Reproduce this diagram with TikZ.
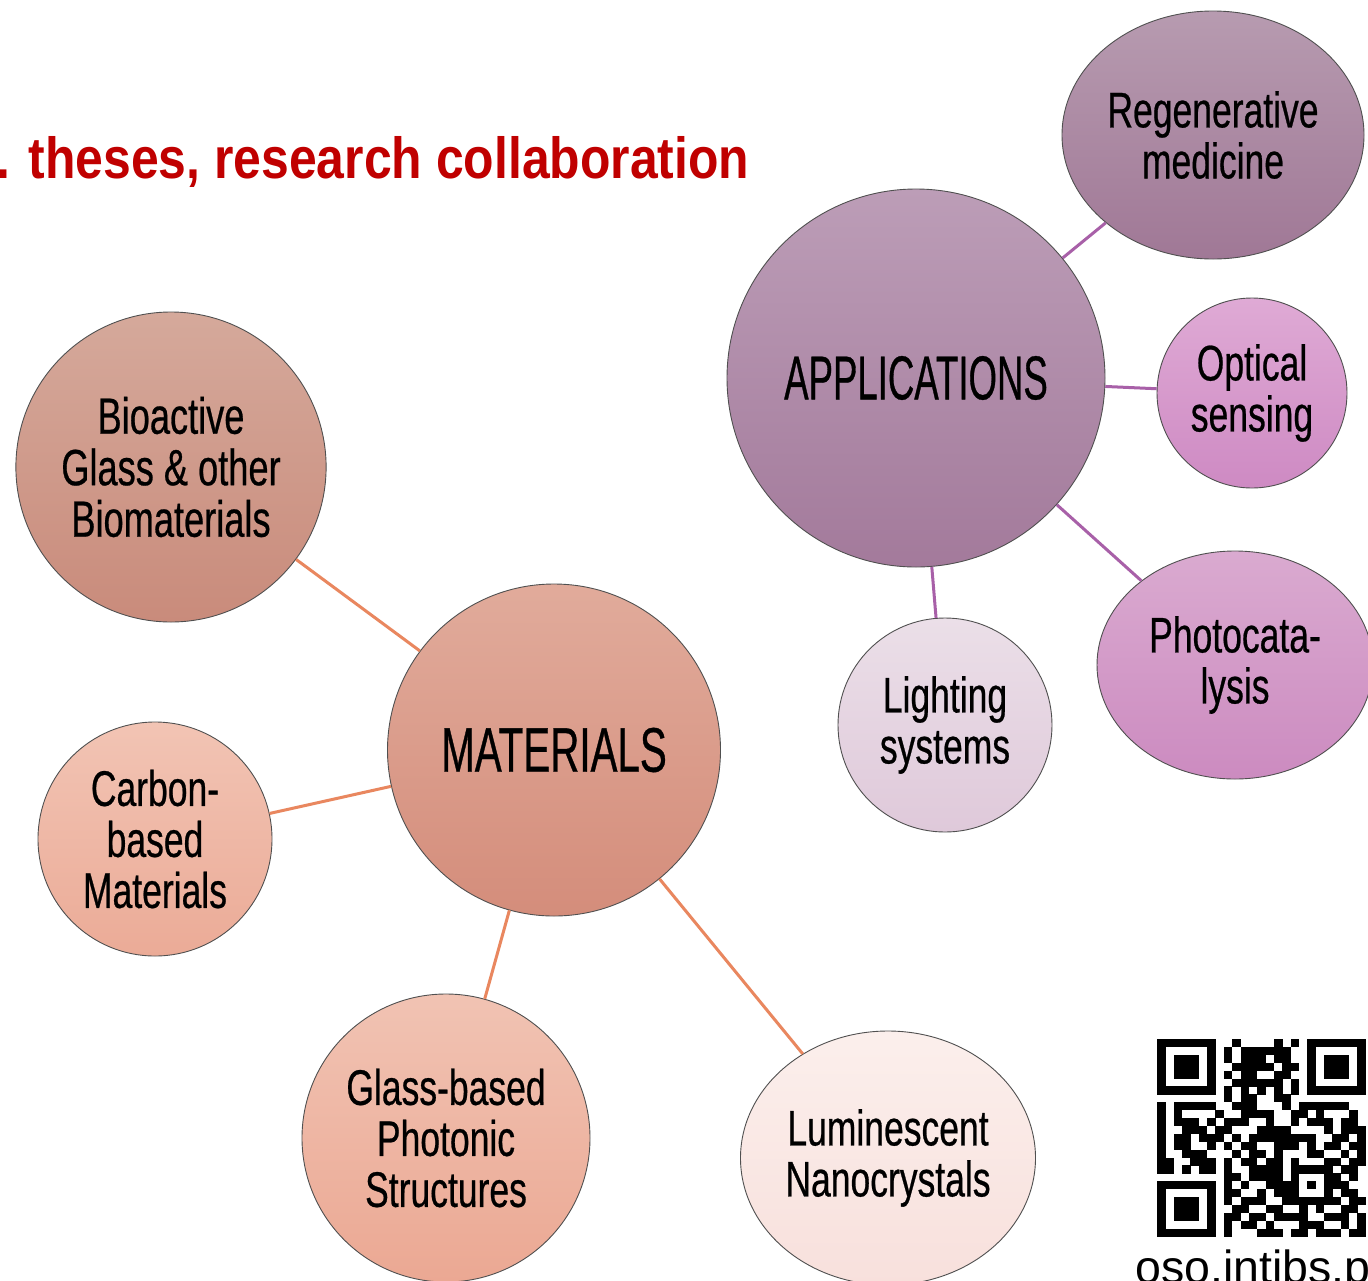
\documentclass[tikz,border=0pt]{standalone}
\usepackage{fontspec}
\usetikzlibrary{shapes.geometric}
\newfontfamily\lblfont{Liberation Sans}[FakeStretch=0.71,FakeBold=0.5]
\newfontfamily\matfont{Liberation Sans}[FakeStretch=0.64,FakeBold=0.5]
\newfontfamily\appfont{Liberation Sans}[FakeStretch=0.59,FakeBold=0.5]
\newfontfamily\titlefont{Liberation Sans}[FakeStretch=0.86]
\newfontfamily\urlfont{Liberation Sans}
\definecolor{titlered}{HTML}{C00000}
\definecolor{matline}{HTML}{E9875F}
\definecolor{appline}{HTML}{A860A8}
\definecolor{rim}{HTML}{505050}
\definecolor{bioT}{HTML}{D5A99B}\definecolor{bioB}{HTML}{C98B7B}
\definecolor{matT}{HTML}{E1AB9B}\definecolor{matB}{HTML}{D48D7B}
\definecolor{carT}{HTML}{F2C4B4}\definecolor{carB}{HTML}{EBAB97}
\definecolor{glaT}{HTML}{F1C3B3}\definecolor{glaB}{HTML}{EBA893}
\definecolor{lumT}{HTML}{FBEFEC}\definecolor{lumB}{HTML}{F8E0DC}
\definecolor{appT}{HTML}{BC9DB7}\definecolor{appB}{HTML}{A37A9B}
\definecolor{regT}{HTML}{B79BB0}\definecolor{regB}{HTML}{A07896}
\definecolor{optT}{HTML}{DFAAD5}\definecolor{optB}{HTML}{CE8AC3}
\definecolor{phoT}{HTML}{DAAAD0}\definecolor{phoB}{HTML}{CC8BC0}
\definecolor{ligT}{HTML}{EBDFE8}\definecolor{ligB}{HTML}{DFC9DA}
\newcount\qrc \newcount\qrr
\def\qrparse#1{%
  \ifx#1\relax\let\qrnext\relax\else
    \ifnum#1=1\relax\fill (\the\qrc,\the\qrr) rectangle +(1.03,1.03);\fi
    \advance\qrc by 1\relax\let\qrnext\qrparse
  \fi\qrnext}
\def\qrrow#1{\qrc=0\relax\qrparse#1\relax\advance\qrr by 1\relax}
\begin{document}
\begin{tikzpicture}[x=1pt,y=-1pt,
  bub/.style={ellipse, draw=rim, line width=0.9pt, inner sep=0pt, align=center, text=black,
    font=\lblfont\fontsize{50}{51}\selectfont},
  mline/.style={draw=matline, line width=3pt},
  aline/.style={draw=appline, line width=3pt}]
\useasboundingbox (0,0) rectangle (1368,1280);
\clip (0,0) rectangle (1368,1280);
\fill[white] (0,0) rectangle (1368,1280);

\node[anchor=base west, inner sep=0pt, text=titlered,
  font=\titlefont\bfseries\fontsize{58}{60}\selectfont] (title) at (-4,178)
  {. theses, research collaboration};

% materials side
\node[bub, minimum width=310pt, minimum height=310pt, top color=bioT, bottom color=bioB,
  font=\lblfont\fontsize{51}{51.5}\selectfont] (bio) at (171,467) {Bioactive\\Glass \& other\\Biomaterials};
\node[bub, minimum width=333pt, minimum height=332pt, top color=matT, bottom color=matB,
  font=\matfont\fontsize{63}{64}\selectfont] (mat) at (554,750) {MATERIALS};
\node[bub, minimum width=234pt, minimum height=234pt, top color=carT, bottom color=carB] (car) at (155,839) {Carbon-\\based\\Materials};
\node[bub, minimum width=288pt, minimum height=288pt, top color=glaT, bottom color=glaB] (gla) at (446,1138) {Glass-based\\Photonic\\Structures};
\node[bub, minimum width=295pt, minimum height=254pt, top color=lumT, bottom color=lumB] (lum) at (888,1158) {Luminescent\\Nanocrystals};

% applications side
\node[bub, minimum width=378pt, minimum height=378pt, top color=appT, bottom color=appB,
  font=\appfont\fontsize{62}{63}\selectfont] (app) at (916,378) {APPLICATIONS};
\node[bub, minimum width=302pt, minimum height=248pt, top color=regT, bottom color=regB] (reg) at (1213,135) {Regenerative\\medicine};
\node[bub, minimum width=190pt, minimum height=190pt, top color=optT, bottom color=optB] (opt) at (1252,393) {Optical\\sensing};
\node[bub, minimum width=276pt, minimum height=228pt, top color=phoT, bottom color=phoB] (pho) at (1235,665) {Photocata-\\lysis};
\node[bub, minimum width=214pt, minimum height=214pt, top color=ligT, bottom color=ligB] (lig) at (945,725) {Lighting\\systems};

% connectors
\draw[mline] (bio) -- (mat);
\draw[mline] (car) -- (mat);
\draw[mline] (gla) -- (mat);
\draw[mline] (lum) -- (mat);
\draw[aline] (app) -- (reg);
\draw[aline] (app) -- (opt);
\draw[aline] (app) -- (pho);
\draw[aline] (app) -- (lig);

% QR code
\begin{scope}[shift={(1157,1039)}, x=8.35pt, y=-7.9pt]
\qrr=0\relax
\qrrow{1111111001000010101111111}
\qrrow{1000001010111111001000001}
\qrrow{1011101010111011001011101}
\qrrow{1011101001111101101011101}
\qrrow{1011101010110011001011101}
\qrrow{1000001001111110101000001}
\qrrow{1111111010101010101111111}
\qrrow{0000000010110011000000000}
\qrrow{1011111001110001011111100}
\qrrow{1010000100111100110100010}
\qrrow{1011101011100100101110110}
\qrrow{1001110110001111000010111}
\qrrow{1011011101011111111001101}
\qrrow{1011001010110011101011011}
\qrrow{1001110001011010001100101}
\qrrow{1100111010110110100011011}
\qrrow{1101011010011110111110110}
\qrrow{0000000011011110100011010}
\qrrow{1111111010100111101011100}
\qrrow{1000001011001011100010110}
\qrrow{1011101010111001111111011}
\qrrow{1011101001100110010100110}
\qrrow{1011101011011011110011101}
\qrrow{1000001010110100011100101}
\qrrow{1111111010001110110111011}
\end{scope}
\node[anchor=base west, inner sep=0pt, font=\urlfont\fontsize{46.5}{48}\selectfont] (url) at (1135,1283) {oso.intibs.pl};
\end{tikzpicture}
\end{document}
